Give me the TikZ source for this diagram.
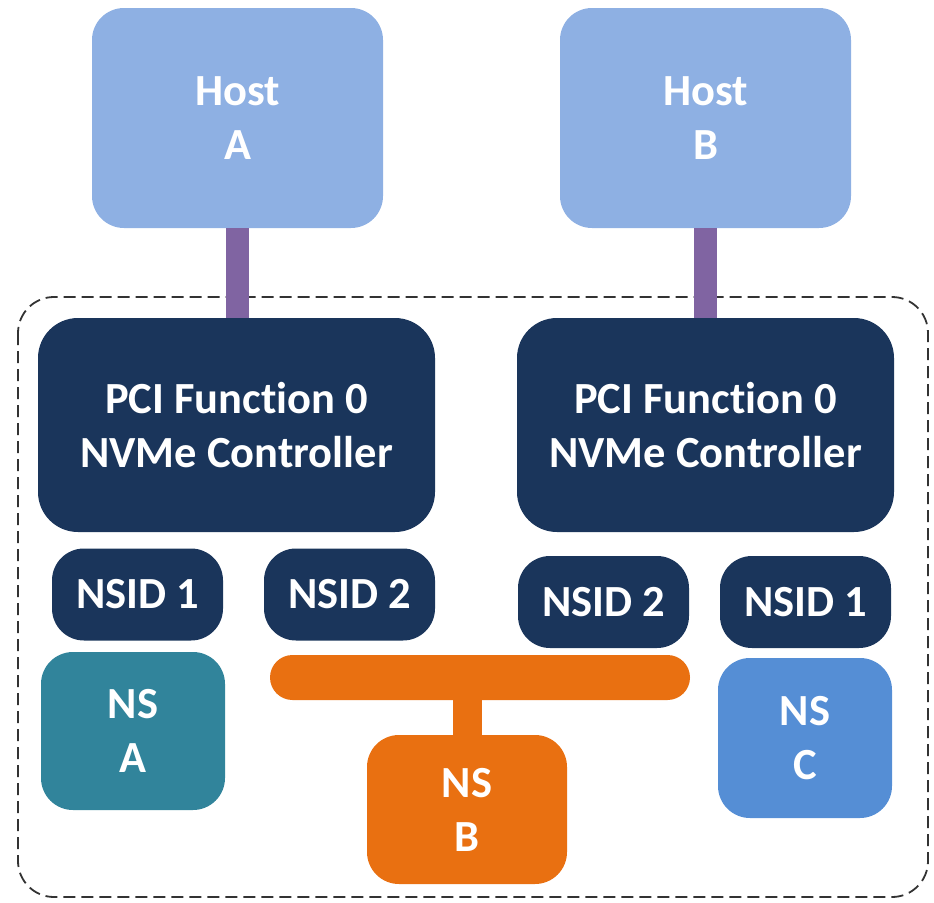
\documentclass[tikz,border=0pt]{standalone}
\usepackage{fontspec}
\setmainfont{Carlito}[Ligatures=NoCommon]
\definecolor{hostblue}{HTML}{8EB0E3}
\definecolor{navy}{HTML}{1A355B}
\definecolor{linkpurple}{HTML}{8064A2}
\definecolor{nsorange}{HTML}{E97011}
\definecolor{nsteal}{HTML}{31849B}
\definecolor{nsblue}{HTML}{558ED5}
\definecolor{framegray}{HTML}{333333}
\begin{document}
\begin{tikzpicture}[x=1pt,y=-1pt,
  box/.style={rectangle, rounded corners=#1, inner sep=0pt, text=white, align=center,
              font=\fontsize{44.5}{54}\selectfont\bfseries},
  hostbox/.style={box=32pt, fill=hostblue, minimum width=291pt, minimum height=220pt},
  ctrlbox/.style={box=40pt, fill=navy, minimum height=214pt},
  nsidbox/.style={box=32pt, fill=navy, minimum width=171pt, minimum height=92pt},
  nsbox/.style={box=32pt, minimum width=#1},
  link/.style={line width=23pt, linkpurple},
]
\useasboundingbox (0,0) rectangle (934,902);

% enclosing subsystem boundary
\draw[framegray, line width=1.8pt, dash pattern=on 12pt off 6pt, rounded corners=36pt]
  (18,297) rectangle (928,897);

% hosts
\node[hostbox] (hostA) at (237.5,118) {Host\\A};
\node[hostbox] (hostB) at (705.5,118) {Host\\B};

% controllers
\node[ctrlbox, minimum width=397pt] (ctrlA) at (236.5,425) {PCI Function 0\\NVMe Controller};
\node[ctrlbox, minimum width=377pt] (ctrlB) at (705.5,425) {PCI Function 0\\NVMe Controller};

% namespace IDs
\node[nsidbox] (nsidA1) at (137.5,594.5) {NSID 1};
\node[nsidbox] (nsidA2) at (349.5,594.5) {NSID 2};
\node[nsidbox] (nsidB2) at (603.5,602) {NSID 2};
\node[nsidbox] (nsidB1) at (805.5,602) {NSID 1};

% namespaces
\node[nsbox=184pt, fill=nsteal, minimum height=158pt] (nsA) at (133,731) {NS\\A};
\node[nsbox=174pt, fill=nsblue, minimum height=160pt] (nsC) at (805,738) {NS\\C};
\node[nsbox=200pt, fill=nsorange, minimum height=149pt] (nsB) at (467,809.5) {NS\\B};

% shared namespace bus
\node[rectangle, rounded corners=22.5pt, fill=nsorange, minimum width=420pt,
      minimum height=45pt, inner sep=0pt] (bus) at (480,677.5) {};
\draw[nsorange, line width=29pt] (bus.south -| nsB.north) -- (nsB.north);

% host links
\draw[link] (hostA.south) -- (hostA.south |- ctrlA.north);
\draw[link] (hostB.south) -- (hostB.south |- ctrlB.north);
\end{tikzpicture}
\end{document}
